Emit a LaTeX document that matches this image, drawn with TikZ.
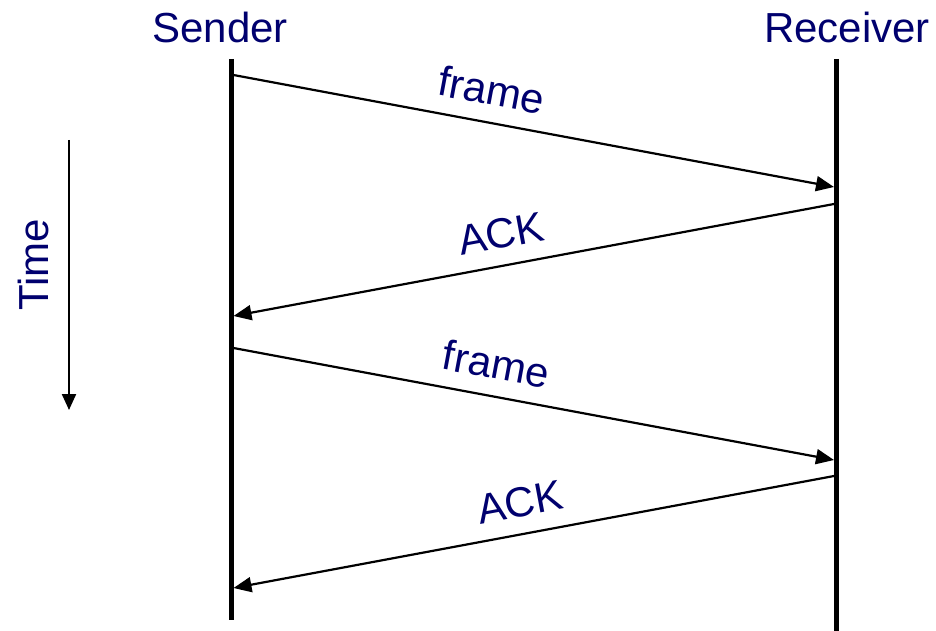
\documentclass[tikz,border=0pt]{standalone}
\usepackage{fontspec}
\setmainfont{Liberation Sans}
\usetikzlibrary{arrows.meta}
\definecolor{navy}{RGB}{0,0,110}
\tikzset{
  lifeline/.style={line width=5pt},
  msg/.style={line width=2.2pt,-{Triangle[length=18pt,width=15pt]}},
  lbl/.style={text=navy,font=\fontsize{42}{50}\selectfont,inner sep=0pt},
  msglbl/.style={lbl,sloped,anchor=south,yshift=16pt},
}
\begin{document}
\begin{tikzpicture}[x=1pt,y=-1pt]
\useasboundingbox (0,0) rectangle (936,631);
% titles
\node[lbl,anchor=base] (snd) at (220,43) {Sender};
\node[lbl,anchor=base] (rcv) at (847,43) {Receiver};
% lifelines
\coordinate (s0) at (231,59);
\coordinate (s1) at (231,620);
\coordinate (r0) at (836.5,59);
\coordinate (r1) at (836.5,631);
\draw[lifeline] (s0) -- (s1);
\draw[lifeline] (r0) -- (r1);
% message end points
\coordinate (a0) at (233.5,75);
\coordinate (a1) at (834,187);
\coordinate (b0) at (834,204);
\coordinate (b1) at (233.5,316);
\coordinate (c0) at (233.5,348);
\coordinate (c1) at (834,460);
\coordinate (d0) at (834,476);
\coordinate (d1) at (233.5,588);
\draw[msg] (a0) -- node[msglbl,pos=0.42] (fa) {frame} (a1);
\draw[msg] (b0) -- node[msglbl,pos=0.545] (ka) {ACK} (b1);
\draw[msg] (c0) -- node[msglbl,pos=0.428] (fb) {frame} (c1);
\draw[msg] (d0) -- node[msglbl,pos=0.513] (kb) {ACK} (d1);
% time axis
\coordinate (t0) at (69,140);
\coordinate (t1) at (69,410);
\draw[line width=2.2pt,-{Triangle[length=16pt,width=14pt]}] (t0) -- (t1);
\node[lbl,rotate=90] (time) at (33,265) {Time};
\end{tikzpicture}
\end{document}
